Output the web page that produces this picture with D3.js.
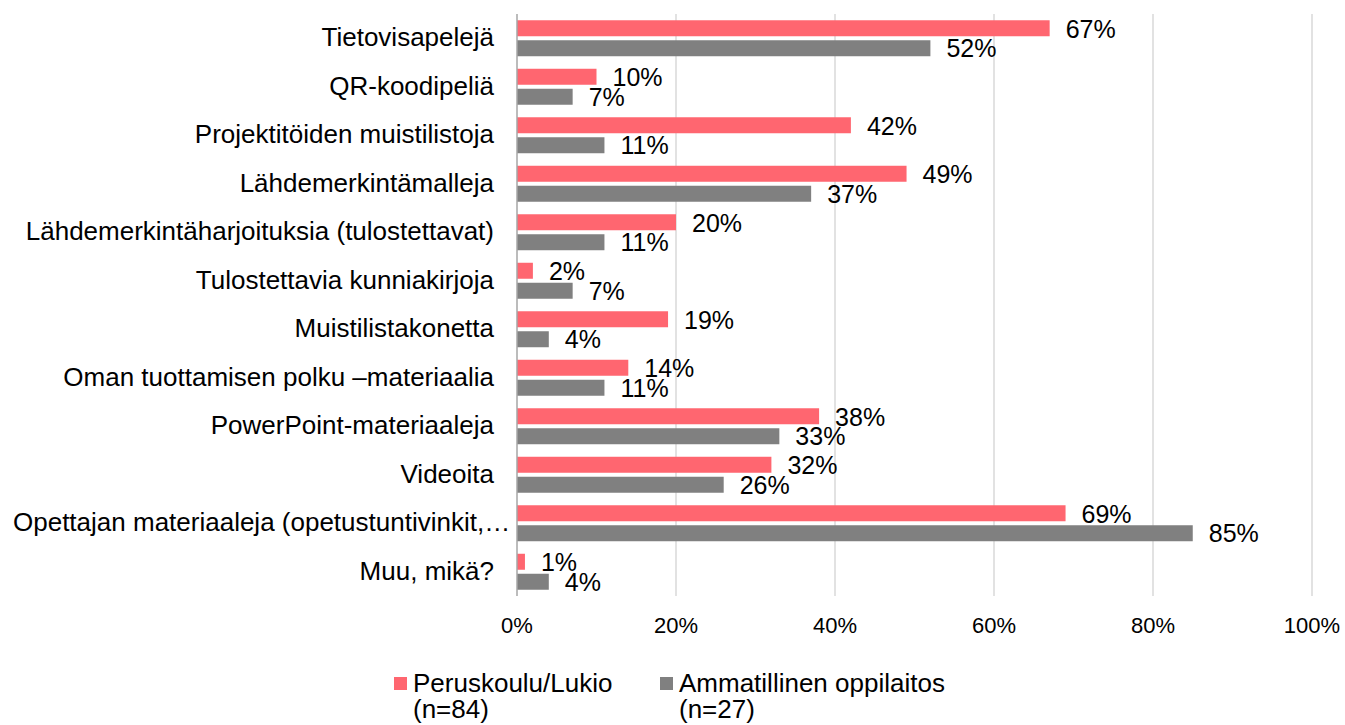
<!DOCTYPE html>
<html>
<head>
<meta charset="utf-8">
<script src="https://cdn.jsdelivr.net/npm/d3@7"></script>
<style>
  html, body { margin: 0; padding: 0; background: #ffffff; }
  svg { display: block; font-family: "Liberation Sans", Arial, sans-serif; }
</style>
</head>
<body>
<svg id="chart" width="1345" height="725"></svg>
<script>
// Categories, top to bottom
const categories = [
  "Tietovisapelejä",
  "QR-koodipeliä",
  "Projektitöiden muistilistoja",
  "Lähdemerkintämalleja",
  "Lähdemerkintäharjoituksia (tulostettavat)",
  "Tulostettavia kunniakirjoja",
  "Muistilistakonetta",
  "Oman tuottamisen polku –materiaalia",
  "PowerPoint-materiaaleja",
  "Videoita",
  "Opettajan materiaaleja (opetustuntivinkit,…",
  "Muu, mikä?"
];

// Series names (legend, two lines each)
const seriesNames = ["Peruskoulu/Lukio", "Ammatillinen oppilaitos"];
const seriesCounts = ["(n=84)", "(n=27)"];

// Share of respondents, percent
const peruskouluLukio = [67, 10, 42, 49, 20, 2, 19, 14, 38, 32, 69, 1];
const ammatillinen    = [52, 7, 11, 37, 11, 7, 4, 11, 33, 26, 85, 4];

// Axis ticks, percent
const xTicks = [0, 20, 40, 60, 80, 100];

const seriesColors = ["#ff6670", "#808080"];

const svg = d3.select("#chart");

const plot = { left: 517, right: 1312, top: 14, bottom: 596 };

const x = d3.scaleLinear().domain([0, 100]).range([plot.left, plot.right]);
const y = d3.scaleBand().domain(categories).range([plot.top, plot.bottom]).padding(0);

// Two bars per category, centred in the row
const groupPad = y.bandwidth() * 0.129;
const inner = d3.scaleBand()
  .domain(seriesNames)
  .range([groupPad, y.bandwidth() - groupPad])
  .paddingInner(0.2)
  .paddingOuter(0);

const series = [
  { name: seriesNames[0], values: peruskouluLukio, color: seriesColors[0] },
  { name: seriesNames[1], values: ammatillinen, color: seriesColors[1] }
];

// Vertical gridlines
svg.append("g")
  .selectAll("line")
  .data(xTicks.filter(t => t > 0))
  .join("line")
  .attr("x1", d => x(d)).attr("x2", d => x(d))
  .attr("y1", plot.top).attr("y2", plot.bottom)
  .attr("stroke", "#d9d9d9")
  .attr("stroke-width", 1.5);

// Tick labels
svg.append("g")
  .selectAll("text")
  .data(xTicks)
  .join("text")
  .attr("x", d => x(d))
  .attr("y", 633)
  .attr("text-anchor", "middle")
  .attr("font-size", 22)
  .attr("fill", "#000")
  .text(d => d + "%");

// Bars
const rows = svg.append("g")
  .selectAll("g")
  .data(categories)
  .join("g")
  .attr("transform", d => `translate(0,${y(d)})`);

series.forEach(s => {
  rows.append("rect")
    .attr("x", x(0))
    .attr("y", inner(s.name))
    .attr("width", (d, i) => x(s.values[i]) - x(0))
    .attr("height", inner.bandwidth())
    .attr("fill", s.color);

  rows.append("text")
    .attr("x", (d, i) => x(s.values[i]) + 16)
    .attr("y", inner(s.name) + inner.bandwidth() / 2)
    .attr("dy", "0.37em")
    .attr("font-size", 25)
    .attr("fill", "#000")
    .text((d, i) => s.values[i] + "%");
});

// Category axis line
svg.append("line")
  .attr("x1", x(0)).attr("x2", x(0))
  .attr("y1", plot.top).attr("y2", plot.bottom)
  .attr("stroke", "#a6a6a6")
  .attr("stroke-width", 1.5);

// Category labels, right aligned against the axis
const catLabels = svg.append("g")
  .selectAll("text")
  .data(categories)
  .join("text")
  .attr("x", 494)
  .attr("y", d => y(d) + y.bandwidth() / 2)
  .attr("dy", "0.3em")
  .attr("text-anchor", "end")
  .attr("font-size", 26)
  .attr("fill", "#000")
  .text(d => d);

// Keep overly long labels inside the left margin
catLabels.each(function () {
  const bb = this.getBBox();
  if (bb.x < 13) {
    d3.select(this).attr("text-anchor", "start").attr("x", 13);
  }
});

// Legend
const legendItems = [
  { x: 394, color: seriesColors[0], name: seriesNames[0], n: seriesCounts[0] },
  { x: 660, color: seriesColors[1], name: seriesNames[1], n: seriesCounts[1] }
];

const legend = svg.append("g")
  .selectAll("g")
  .data(legendItems)
  .join("g")
  .attr("transform", d => `translate(${d.x},0)`);

legend.append("rect")
  .attr("x", 0).attr("y", 677)
  .attr("width", 13).attr("height", 13)
  .attr("fill", d => d.color);

const lt = legend.append("text")
  .attr("x", 19)
  .attr("font-size", 26)
  .attr("fill", "#000");
lt.append("tspan").attr("x", 19).attr("y", 692).text(d => d.name);
lt.append("tspan").attr("x", 19).attr("y", 718).text(d => d.n);
</script>
</body>
</html>
